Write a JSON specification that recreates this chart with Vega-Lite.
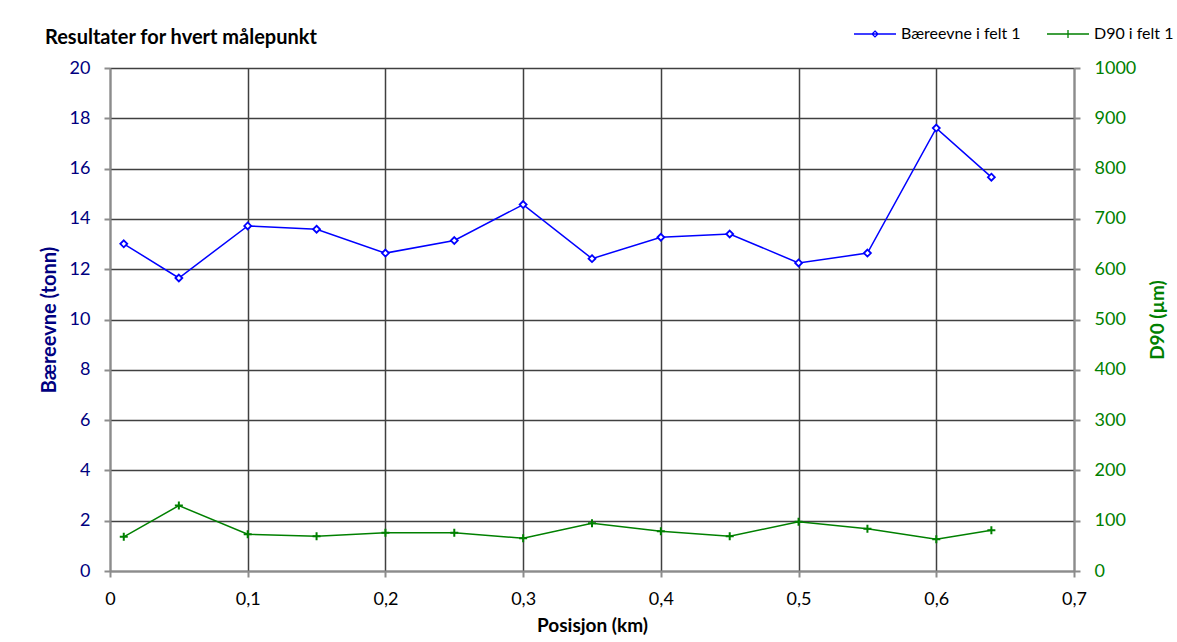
{
  "$schema": "https://vega.github.io/schema/vega-lite/v6.json",
  "width": 964,
  "height": 503,
  "autosize": "none",
  "padding": {"left": 110, "top": 68, "right": 103, "bottom": 71},
  "background": "white",
  "config": {"view": {"stroke": null}, "font": "Lato"},
  "title": {
    "text": "Resultater for hvert målepunkt",
    "anchor": "start",
    "frame": "group",
    "dx": -65,
    "offset": 0,
    "dy": 36,
    "font": "Lato",
    "fontSize": 20,
    "fontWeight": "bold",
    "color": "#000000"
  },
  "data": {
    "values": [
      {"pos": 0.01, "b": 13.01, "d": 68},
      {"pos": 0.05, "b": 11.65, "d": 130},
      {"pos": 0.1, "b": 13.72, "d": 73},
      {"pos": 0.15, "b": 13.59, "d": 69},
      {"pos": 0.2, "b": 12.64, "d": 76},
      {"pos": 0.25, "b": 13.14, "d": 76},
      {"pos": 0.3, "b": 14.57, "d": 65},
      {"pos": 0.35, "b": 12.42, "d": 95},
      {"pos": 0.4, "b": 13.27, "d": 79},
      {"pos": 0.45, "b": 13.4, "d": 69},
      {"pos": 0.5, "b": 12.25, "d": 98},
      {"pos": 0.55, "b": 12.64, "d": 84},
      {"pos": 0.6, "b": 17.61, "d": 63},
      {"pos": 0.64, "b": 15.66, "d": 81}
    ]
  },
  "encoding": {
    "x": {
      "field": "pos",
      "type": "quantitative",
      "scale": {"domain": [0, 0.7], "nice": false, "zero": false},
      "axis": {
        "values": [0, 0.1, 0.2, 0.3, 0.4, 0.5, 0.6, 0.7],
        "labelExpr": "replace(format(datum.value, '.1~f'), '.', ',')",
        "title": "Posisjon  (km)",
        "titleFont": "Lato",
        "titleFontSize": 19,
        "titleFontWeight": "bold",
        "titleColor": "#000000",
        "titlePadding": 8,
        "labelFont": "Lato",
        "labelFontSize": 18,
        "labelColor": "#000000",
        "labelPadding": 13,
        "labelFlush": false,
        "domainColor": "#8c8c8c",
        "domainWidth": 2,
        "tickColor": "#8c8c8c",
        "tickWidth": 2,
        "tickSize": 6,
        "gridColor": "#404040",
        "gridWidth": 1.5,
        "gridOpacity": 1
      }
    }
  },
  "layer": [
    {
      "mark": {
        "type": "line",
        "strokeWidth": 1.5,
        "point": {
          "shape": "M0,-1L1,0L0,1L-1,0Z",
          "filled": false,
          "fill": "white",
          "size": 48,
          "strokeWidth": 1.8
        }
      },
      "encoding": {
        "y": {
          "field": "b",
          "type": "quantitative",
          "scale": {"domain": [0, 20], "nice": false},
          "axis": {
            "orient": "left",
            "values": [0, 2, 4, 6, 8, 10, 12, 14, 16, 18, 20],
            "title": "Bæreevne (tonn)",
            "titleFont": "Lato",
            "titleFontSize": 20,
            "titleFontWeight": "bold",
            "titleColor": "#000080",
            "titlePadding": 10,
            "labelFont": "Lato",
            "labelFontSize": 18,
            "labelColor": "#000080",
            "labelPadding": 14,
            "labelFlush": false,
            "domainColor": "#8c8c8c",
            "domainWidth": 2,
            "tickColor": "#8c8c8c",
            "tickWidth": 2,
            "tickSize": 6,
            "gridColor": "#404040",
            "gridWidth": 1.5,
            "gridOpacity": 1
          }
        },
        "color": {
          "datum": "Bæreevne i felt 1",
          "type": "nominal",
          "scale": {
            "domain": ["Bæreevne i felt 1", "D90 i felt 1"],
            "range": ["#0000FF", "#008000"]
          },
          "legend": {
            "title": null,
            "orient": "none",
            "direction": "horizontal",
            "legendX": 743,
            "legendY": -56,
            "symbolSize": 1764,
            "symbolStrokeWidth": 1.3,
            "labelFont": "Lato",
            "labelFontSize": 16,
            "labelColor": "#000000",
            "labelOffset": 4,
            "columnPadding": 23,
            "encode": {
              "symbols": {
                "update": {
                  "shape": {"signal": "datum.value == 'D90 i felt 1' ? 'M-1,0H1M0,-0.19V0.19' : 'M-1,0H1M0,-0.14L0.14,0L0,0.14L-0.14,0Z'"},
                  "fill": {"value": "transparent"}
                }
              }
            }
          }
        }
      }
    },
    {
      "mark": {
        "type": "line",
        "strokeWidth": 1.5,
        "point": {
          "shape": "M0,-1V1M-1,0H1",
          "filled": false,
          "size": 64,
          "strokeWidth": 2
        }
      },
      "encoding": {
        "y": {
          "field": "d",
          "type": "quantitative",
          "scale": {"domain": [0, 1000], "nice": false},
          "axis": {
            "orient": "right",
            "values": [0, 100, 200, 300, 400, 500, 600, 700, 800, 900, 1000],
            "format": "d",
            "title": "D90 (µm)",
            "titleAngle": 270,
            "titleFont": "Lato",
            "titleFontSize": 19,
            "titleFontWeight": "bold",
            "titleColor": "#008000",
            "titlePadding": 32,
            "labelFont": "Lato",
            "labelFontSize": 18,
            "labelColor": "#008000",
            "labelPadding": 14,
            "labelFlush": false,
            "domainColor": "#8c8c8c",
            "domainWidth": 2,
            "tickColor": "#8c8c8c",
            "tickWidth": 2,
            "tickSize": 6,
            "grid": false
          }
        },
        "color": {"datum": "D90 i felt 1", "type": "nominal"}
      }
    }
  ],
  "resolve": {"scale": {"y": "independent"}}
}
